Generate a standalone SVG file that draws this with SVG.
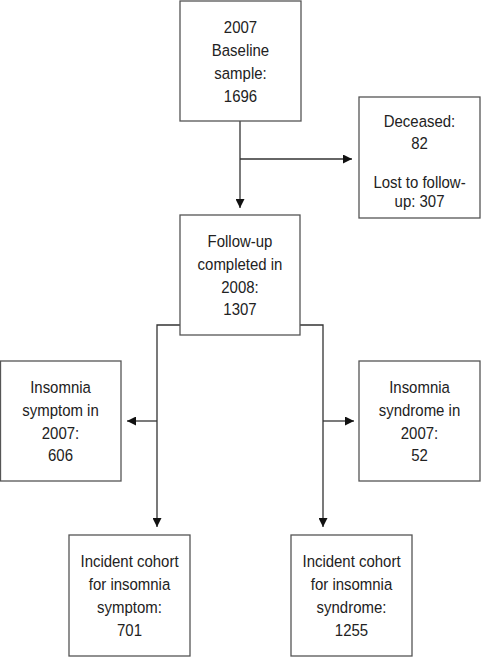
<svg xmlns="http://www.w3.org/2000/svg" width="481" height="657" viewBox="0 0 481 657">
<style>
.box{fill:#fff;stroke:#555;stroke-width:1.3}
.t{font-family:"Liberation Sans",Arial,sans-serif;font-size:17px;fill:#222;text-anchor:middle}
.c{fill:none;stroke:#333;stroke-width:1.3}
</style>
<defs>
<marker id="ah" viewBox="0 0 10 10" refX="10" refY="5" markerWidth="10" markerHeight="9" markerUnits="userSpaceOnUse" orient="auto">
<path d="M0,0 L10,5 L0,10 z" fill="#111"/>
</marker>
</defs>
<rect width="481" height="657" fill="#fff"/>
<g id="connectors">
<line class="c" x1="240" y1="121" x2="240" y2="208" marker-end="url(#ah)"/>
<line class="c" x1="240" y1="159" x2="352" y2="159" marker-end="url(#ah)"/>
<polyline class="c" points="180,325 157,325 157,527" marker-end="url(#ah)"/>
<line class="c" x1="157" y1="421" x2="127" y2="421" marker-end="url(#ah)"/>
<polyline class="c" points="300,325 323,325 323,527" marker-end="url(#ah)"/>
<line class="c" x1="323" y1="421" x2="354" y2="421" marker-end="url(#ah)"/>
</g>
<g id="baseline">
<rect class="box" x="180" y="1" width="121" height="120"/>
<g transform="translate(240.5,0) scale(0.88,1)">
<text class="t" x="0" y="33.5">2007</text>
<text class="t" x="0" y="56.3">Baseline</text>
<text class="t" x="0" y="79">sample:</text>
<text class="t" x="0" y="101.8">1696</text>
</g>
</g>
<g id="deceased">
<rect class="box" x="359" y="97" width="121" height="121"/>
<g transform="translate(419.5,0) scale(0.88,1)">
<text class="t" x="0" y="127">Deceased:</text>
<text class="t" x="0" y="149">82</text>
<text class="t" x="0" y="188">Lost to follow-</text>
<text class="t" x="0" y="207">up: 307</text>
</g>
</g>
<g id="followup">
<rect class="box" x="180" y="215" width="120" height="120"/>
<g transform="translate(240,0) scale(0.88,1)">
<text class="t" x="0" y="247">Follow-up</text>
<text class="t" x="0" y="270">completed in</text>
<text class="t" x="0" y="293">2008:</text>
<text class="t" x="0" y="315.5">1307</text>
</g>
</g>
<g id="symptom2007">
<rect class="box" x="0.5" y="361" width="120.5" height="120"/>
<g transform="translate(60.5,0) scale(0.88,1)">
<text class="t" x="0" y="393">Insomnia</text>
<text class="t" x="0" y="416">symptom in</text>
<text class="t" x="0" y="439">2007:</text>
<text class="t" x="0" y="461.5">606</text>
</g>
</g>
<g id="syndrome2007">
<rect class="box" x="359" y="361" width="121" height="120"/>
<g transform="translate(419.5,0) scale(0.88,1)">
<text class="t" x="0" y="393">Insomnia</text>
<text class="t" x="0" y="416">syndrome in</text>
<text class="t" x="0" y="439">2007:</text>
<text class="t" x="0" y="461.5">52</text>
</g>
</g>
<g id="cohortSymptom">
<rect class="box" x="69" y="535" width="121" height="121"/>
<g transform="translate(129.5,0) scale(0.88,1)">
<text class="t" x="0" y="567.5">Incident cohort</text>
<text class="t" x="0" y="590.3">for insomnia</text>
<text class="t" x="0" y="613">symptom:</text>
<text class="t" x="0" y="635.8">701</text>
</g>
</g>
<g id="cohortSyndrome">
<rect class="box" x="291" y="535" width="121" height="121"/>
<g transform="translate(351.5,0) scale(0.88,1)">
<text class="t" x="0" y="567.5">Incident cohort</text>
<text class="t" x="0" y="590.3">for insomnia</text>
<text class="t" x="0" y="613">syndrome:</text>
<text class="t" x="0" y="635.8">1255</text>
</g>
</g>
</svg>
